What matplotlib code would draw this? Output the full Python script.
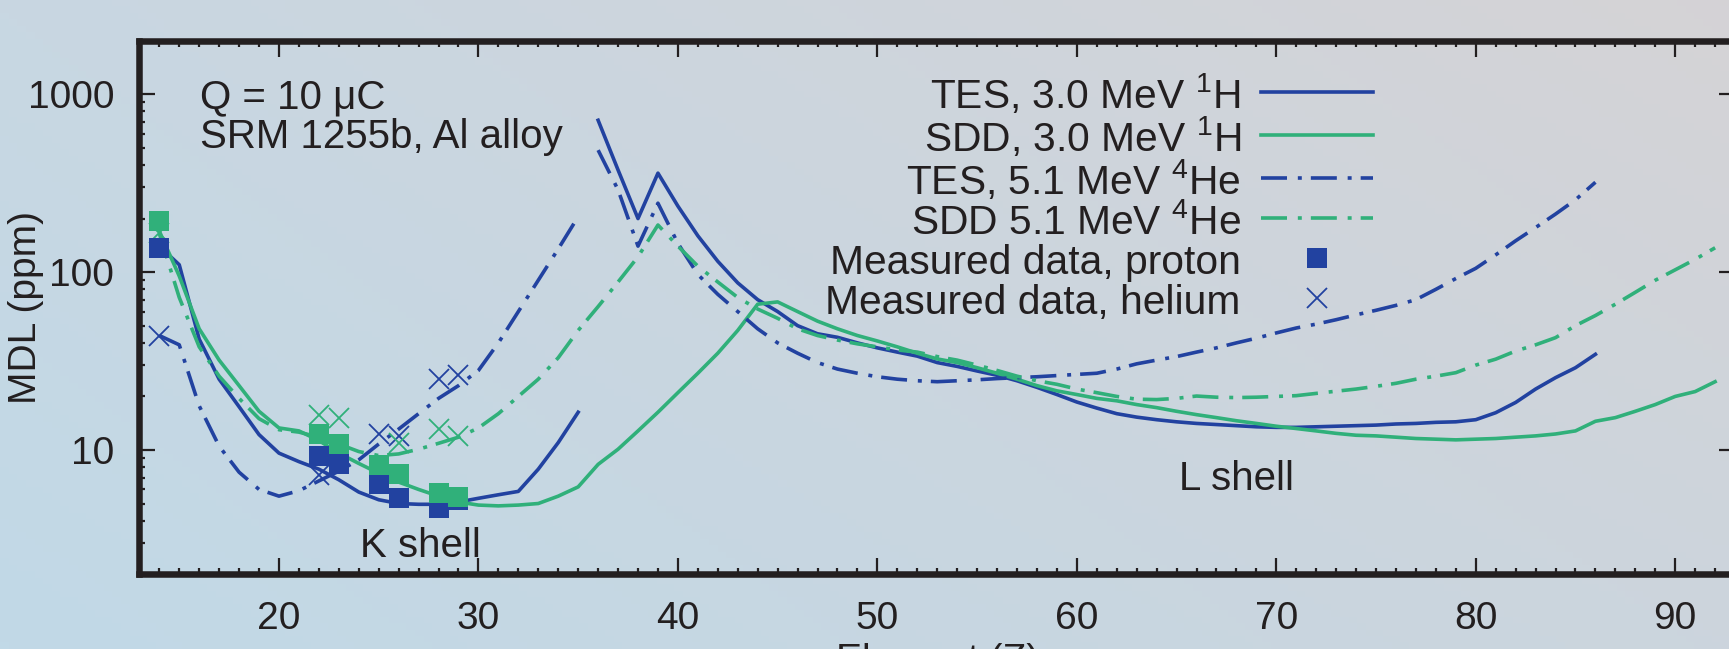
import numpy as np
import matplotlib.pyplot as plt
from matplotlib.ticker import MultipleLocator, LogLocator, FuncFormatter, NullFormatter

plt.rcParams['font.family'] = ['Liberation Sans', 'DejaVu Sans']
plt.rcParams['mathtext.fontset'] = 'custom'
plt.rcParams['mathtext.rm'] = 'Liberation Sans'
plt.rcParams['mathtext.it'] = 'Liberation Sans:italic'
plt.rcParams['mathtext.default'] = 'rm'

# --- data (element Z vs MDL in ppm)
z_k = list(range(14, 36))
z_l = list(range(36, 87))
z_all = list(range(14, 93))

tes_h_k = [140, 110, 42, 25, 17.5, 12.2, 9.6, 8.6, 7.8, 6.8, 5.8, 5.25, 5.0, 4.95,
           4.95, 5.1, 5.35, 5.6, 5.85, 7.8, 11.0, 16.3]
tes_h_l = [714, 375, 200, 360, 235, 160, 115, 87, 70, 60, 50, 45, 43, 40, 37.5,
           35.5, 33.7, 31, 29.5, 27.8, 26.3, 24.5, 22.5, 20.5, 18.6, 17.2, 16, 15.3,
           14.8, 14.4, 14.1, 13.9, 13.7, 13.5, 13.4, 13.4, 13.5, 13.6, 13.7, 13.8,
           14.0, 14.1, 14.3, 14.4, 14.8, 16.2, 18.5, 22, 25.5, 29, 34.5]
tes_he_k = [44, 39, 17.7, 10.5, 7.5, 6.0, 5.5, 5.9, 6.7, 7.6, 8.8, 10.8, 13.1, 16,
            19.5, 23, 28, 40, 60, 90, 135, 205]
tes_he_l = [485, 290, 140, 244, 145, 97, 75, 60, 48, 40, 35, 31, 28.5, 27, 25.8,
            25.0, 24.5, 24.2, 24.5, 24.8, 25.2, 25.5, 25.8, 26.2, 26.6, 27, 28.5,
            30.5, 32, 33.5, 35.5, 37.5, 40, 42.5, 45.5, 48.5, 51, 54, 57.5, 61, 65,
            70, 80, 92, 105, 125, 150, 178, 212, 255, 320]
sdd_h = [170, 95, 48, 32, 23, 16.5, 13.3, 12.8, 11.3, 9.6, 8.4, 7.4, 6.6, 6.0, 5.5,
         5.1, 4.9, 4.85, 4.9, 5.0, 5.5, 6.2, 8.3, 10.1, 12.8, 16.3, 21, 27, 35, 47,
         66, 68, 60, 53, 48, 44, 41, 38, 35, 32.5, 31, 29, 27, 25, 23, 21.5, 20.5,
         19.5, 18.9, 18, 17.3, 16.5, 15.8, 15.2, 14.6, 14.1, 13.6, 13.2, 12.8, 12.4,
         12.1, 12.0, 11.8, 11.6, 11.5, 11.4, 11.5, 11.6, 11.8, 12.0, 12.3, 12.8,
         14.5, 15.2, 16.5, 18.0, 20, 21.3, 24.2]
sdd_he = [165, 72, 38, 26, 19.5, 15, 13, 12.6, 11.8, 10.8, 9.8, 9.3, 9.5, 10.1,
          10.9, 11.8, 13.3, 16, 20, 25, 33, 47, 64, 88, 122, 184, 140, 108, 88, 72,
          62, 55, 48, 44, 41.5, 39.5, 38, 36.5, 35.5, 33.5, 32, 30, 28, 26, 24.5,
          23.4, 22, 21, 20, 19.3, 19.2, 19.5, 20.1, 19.8, 19.7, 19.8, 20, 20.2, 20.8,
          21.4, 22, 22.8, 23.7, 25, 26, 27.2, 30, 32.4, 36, 39, 42.8, 50, 57, 66, 77,
          90, 103, 118, 137]

z_meas = [14, 22, 23, 25, 26, 28, 29]
meas_p_tes = [137, 9.3, 8.35, 6.4, 5.4, 4.7, 5.2]
meas_p_sdd = [193, 12.3, 10.8, 8.2, 7.3, 5.7, 5.45]
z_he_tes = [14, 22, 25, 26, 28, 29]
meas_he_tes = [43.7, 7.2, 12.3, 12.0, 25.2, 26.3]
z_he_sdd = [14, 22, 23, 26, 28, 29]
meas_he_sdd = [165, 15.7, 15.1, 11.0, 13.1, 12.0]

labels = ['TES, 3.0 MeV $^{1}$H', 'SDD, 3.0 MeV $^{1}$H', 'TES, 5.1 MeV $^{4}$He',
          'SDD 5.1 MeV $^{4}$He', 'Measured data, proton', 'Measured data, helium']

BLUE = '#2242a0'
GREEN = '#30b07a'
INK = '#231f20'
LW = 2.6
DASHDOT = (0, (7.2, 3.0, 1.1, 2.5))

fig = plt.figure(figsize=(17.29, 6.49), dpi=100)

# gradient backdrop (blue-ish left, grey top right)
bg = fig.add_axes([0, 0, 1, 1], zorder=-10)
u = np.linspace(0, 1, 200)[None, :, None]
v = np.linspace(0, 1, 100)[:, None, None]
tl = np.array([0.785, 0.843, 0.886]); tr = np.array([0.835, 0.827, 0.839])
bl = np.array([0.757, 0.851, 0.906]); br = np.array([0.800, 0.835, 0.867])
grad = (1 - v) * ((1 - u) * tl + u * tr) + v * ((1 - u) * bl + u * br)
bg.imshow(grad, aspect='auto', extent=[0, 1, 0, 1], origin='upper')
bg.axis('off')

ax = fig.add_axes([0.0806, 0.1151, 0.9229, 0.8222])
ax.set_facecolor('none')

l1, = ax.plot(z_k, tes_h_k, color=BLUE, lw=LW)
ax.plot(z_l, tes_h_l, color=BLUE, lw=LW)
l2, = ax.plot(z_all, sdd_h, color=GREEN, lw=LW)
l3, = ax.plot(z_k, tes_he_k, color=BLUE, lw=LW, ls=DASHDOT)
ax.plot(z_l, tes_he_l, color=BLUE, lw=LW, ls=DASHDOT)
l4, = ax.plot(z_all, sdd_he, color=GREEN, lw=LW, ls=DASHDOT)

m2, = ax.plot(z_he_tes, meas_he_tes, 'x', color=BLUE, ms=14, mew=1.3)
ax.plot(z_he_sdd, meas_he_sdd, 'x', color=GREEN, ms=14, mew=1.3)
m1, = ax.plot(z_meas, meas_p_tes, 's', color=BLUE, ms=14, mew=0)
ax.plot(z_meas, meas_p_sdd, 's', color=GREEN, ms=14, mew=0)

ax.set_yscale('log')
ax.set_xlim(13, 93)
ax.set_ylim(2, 2000)
ax.xaxis.set_major_locator(MultipleLocator(10))
ax.xaxis.set_minor_locator(MultipleLocator(1))
ax.yaxis.set_major_locator(LogLocator(base=10))
ax.yaxis.set_minor_locator(LogLocator(base=10, subs=np.arange(2, 10)))
ax.yaxis.set_major_formatter(FuncFormatter(lambda val, pos: f'{val:g}'))
ax.yaxis.set_minor_formatter(NullFormatter())

ax.tick_params(which='both', direction='in', top=True, right=True, colors=INK,
               width=1.6, labelsize=28, labelcolor=INK)
ax.tick_params(which='major', length=11.3)
ax.tick_params(which='minor', length=4.6)
ax.tick_params(axis='x', pad=19)
ax.tick_params(axis='y', pad=18)
for s in ax.spines.values():
    s.set_linewidth(4.7)
    s.set_color(INK)

ax.set_ylabel('MDL (ppm)', fontsize=28, color=INK)
ax.yaxis.set_label_coords(-0.0597, 0.5)
ax.set_xlabel('Element (Z)', fontsize=28, color=INK)
ax.xaxis.set_label_coords(0.5, -0.129)

ax.text(0.038, 0.874, 'Q = 10 μC', transform=ax.transAxes, fontsize=29,
        color=INK, va='baseline')
ax.text(0.038, 0.799, 'SRM 1255b, Al alloy', transform=ax.transAxes, fontsize=29,
        color=INK, va='baseline')
ax.text(24.05, 2.51, 'K shell', fontsize=29, color=INK, va='baseline')
ax.text(65.13, 5.92, 'L shell', fontsize=29, color=INK, va='baseline')

# taller handle boxes so every legend row gets the same height
leg = ax.legend([l1, l2, l3, l4, m1, m2], labels, loc='upper right',
                bbox_to_anchor=(1373 / 1729, 1 - 72 / 649), bbox_transform=fig.transFigure,
                frameon=False, markerfirst=False, handlelength=2.75, handletextpad=0.5,
                handleheight=1.06, labelspacing=-0.022, borderpad=0, borderaxespad=0,
                fontsize=29.3)
for t in leg.get_texts():
    t.set_color(INK)

fig.savefig('out.png', dpi=100)
